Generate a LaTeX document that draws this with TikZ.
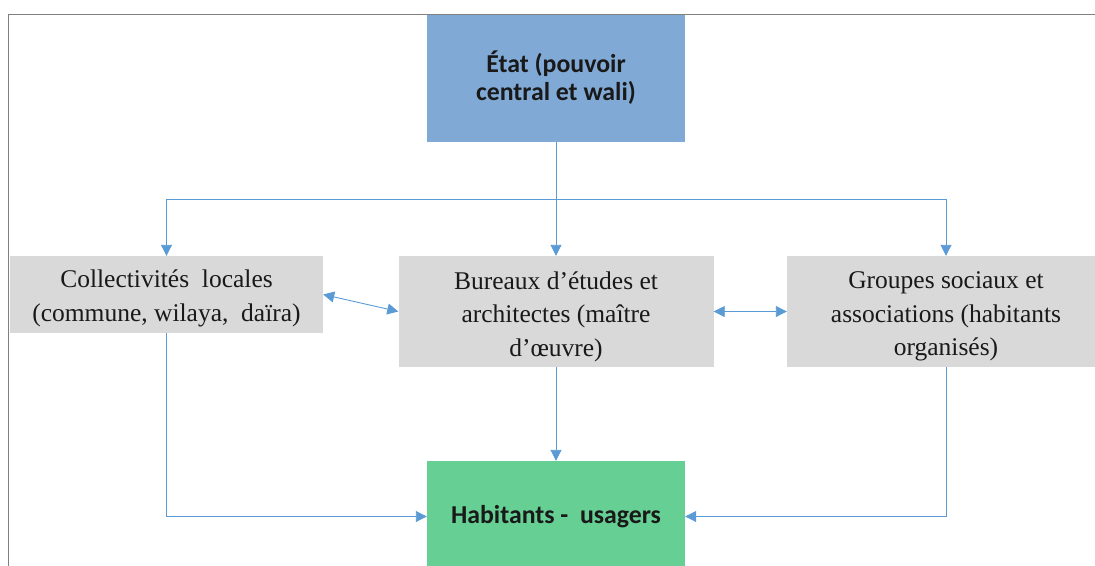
\documentclass[tikz,border=0pt]{standalone}
\usepackage{fontspec}
\setmainfont{Liberation Serif}
\newfontfamily\calib{Carlito}
\usetikzlibrary{arrows.meta}
\definecolor{boxblue}{HTML}{80AAD5}
\definecolor{boxgray}{HTML}{D9D9D9}
\definecolor{boxgreen}{HTML}{66CF93}
\definecolor{arrblue}{HTML}{5B9BD5}
\definecolor{frame}{HTML}{808080}
\tikzset{
  graybox/.style={rectangle, fill=boxgray, inner sep=0pt},
  graytext/.style={inner sep=0pt, align=center, yshift=-5pt,
    font=\fontsize{25.5}{33.5}\selectfont, text=black!90},
  colbox/.style={rectangle, inner sep=0pt, align=center,
    font=\calib\bfseries\fontsize{25.8}{28}\selectfont, text=black!90},
  conn/.style={draw=arrblue, line width=0.9pt, -{Triangle[length=11pt,width=11pt]}},
  biconn/.style={draw=arrblue, line width=0.9pt, {Triangle[length=11pt,width=11pt]}-{Triangle[length=11pt,width=11pt]}}
}
\begin{document}
\begin{tikzpicture}[x=1pt,y=-1pt]
\useasboundingbox (0,0) rectangle (1095,565);
% frame
\draw[frame, line width=1.8pt] (8.5,600) -- (8.5,14.5) -- (1110,14.5);
% nodes
\node[colbox, fill=boxblue, minimum width=258pt, minimum height=127pt] (etat) at (556,78) {État (pouvoir\\central et wali)};
\node[graybox, minimum width=313pt, minimum height=77pt,
  label={[graytext, yshift=1pt]center:Collectivités\ \ locales\\(commune, wilaya,\ \ daïra)}] (coll) at (166.5,294.5) {};
\node[graybox, minimum width=315pt, minimum height=111pt,
  label={[graytext]center:Bureaux d’études et\\architectes (maître\\d’œuvre)}] (bur) at (556,311.5) {};
\node[graybox, minimum width=318pt, minimum height=111pt,
  label={[graytext]center:Groupes sociaux et\\associations (habitants\\organisés)}] (grp) at (946,311.5) {};
\node[colbox, fill=boxgreen, minimum width=258pt, minimum height=111pt] (hab) at (556,516.5) {Habitants -\ \ usagers};
% connectors
\coordinate (split) at (556,199);
\draw[conn] (etat.south) -- (bur.north);
\draw[conn] (split) -| (coll.north);
\draw[conn] (split) -| (grp.north);
\draw[biconn] (coll.east) -- (bur.west);
\draw[biconn] (bur.east) -- (grp.west);
\draw[conn] (bur.south) -- (hab.north);
\draw[conn] (coll.south) |- (hab.west);
\draw[conn] (grp.south) |- (hab.east);
\end{tikzpicture}
\end{document}
